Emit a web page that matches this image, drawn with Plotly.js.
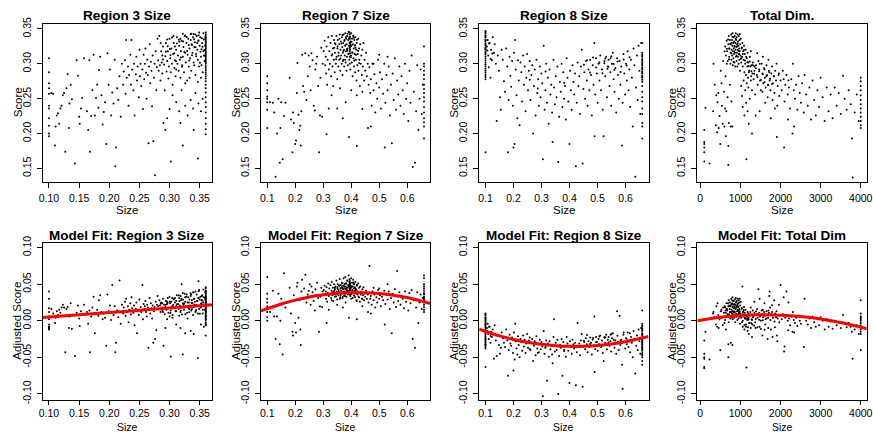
<!DOCTYPE html>
<html>
<head>
<meta charset="utf-8">
<script src="https://cdn.plot.ly/plotly-3.0.1.min.js"></script>
<style>html,body{margin:0;padding:0;background:#fff;}#chart{width:873px;height:432px;}</style>
</head>
<body>
<div id="chart"></div>
<script>
// ---------- Region 3 ----------
const r3Size = [
0.100,0.100,0.100,0.100,0.100,0.100,0.100,0.100,0.100,0.100,0.100,0.104,0.107,0.110,0.111,0.113,0.115,0.117,0.119,0.121,0.123,
0.125,0.127,0.129,0.131,0.133,0.134,0.136,0.138,0.143,0.146,0.148,0.150,0.151,0.153,0.155,0.158,0.163,0.165,0.167,0.168,
0.170,0.172,0.174,0.176,0.178,0.180,0.182,0.183,0.185,0.187,0.189,0.191,0.193,0.195,0.197,0.199,0.201,0.203,0.205,0.207,
0.209,0.210,0.211,0.213,0.215,0.217,0.219,
0.221,0.223,0.224,0.226,0.227,0.228,0.229,0.231,0.232,0.233,0.235,0.236,0.237,0.238,0.240,0.241,0.242,0.244,0.245,0.246,
0.247,0.249,0.250,0.251,0.252,0.253,0.255,0.256,0.257,0.258,0.259,0.260,0.261,0.262,0.263,0.264,0.265,0.266,0.267,0.268,
0.269,0.270,0.271,0.272,0.273,0.274,0.275,0.276,0.277,0.278,0.279,0.280,
0.290,0.302,0.322,0.347,0.293,0.296,0.300,0.305,0.311,0.316,0.318,0.320,0.326,0.330,0.335,0.339,0.343,0.348,0.352,0.355,0.340,
0.281,0.282,0.283,0.284,0.285,0.286,0.287,0.288,0.289,0.291,0.292,0.293,0.294,0.295,0.296,0.297,0.298,0.299,0.300,0.301,
0.302,0.303,0.304,0.305,0.306,0.307,0.308,0.309,0.310,0.311,0.312,0.313,0.314,0.315,0.316,0.317,0.318,0.319,0.320,0.321,
0.322,0.323,0.324,0.325,0.326,0.327,0.328,0.329,0.330,0.331,0.332,0.333,0.334,0.335,0.336,0.337,0.338,0.339,0.340,0.341,
0.342,0.343,0.344,0.345,0.346,0.347,0.348,0.349,0.350,0.351,0.352,0.353,0.354,0.355,0.356,0.357,0.358,0.359,
0.357,0.352,0.347,0.333,0.326,0.318,0.309,0.296,0.288,0.343,0.336,0.349,0.322,0.311,0.341,0.353,
0.36,0.36,0.36,0.36,0.36,0.36,0.36,0.36,0.36,0.36,0.36,0.36,0.36,0.36,0.36,0.36,0.36,0.36,0.36,0.36,
0.36,0.36,0.36,0.36,0.36,0.36,0.36,0.36,0.36,0.36,0.36,0.36,0.36,0.36,0.36,0.36,0.36,0.36,0.36,0.36,0.36,0.36,
0.3005,0.3042,0.3078,0.3121,0.3153,0.3187,0.3224,0.3259,0.3291,0.3318,0.3347,0.3372,0.3406,0.3431,0.3458,0.3483,0.3512,0.3537,0.3561,0.3584,
0.2937,0.2968,0.3015,0.3066,0.3109,0.3163,0.3207,0.3244,0.3283,0.3327,0.3364,0.3398,0.3441,0.3476,0.3503,0.3546,0.3578,0.3592,0.2853,0.2891
];
const r3Score = [
0.308,0.288,0.272,0.265,0.257,0.240,0.236,0.222,0.211,0.200,0.196,0.258,0.257,0.183,0.210,0.226,0.229,0.214,0.236,0.240,0.255,
0.258,0.174,0.265,0.285,0.208,0.243,0.270,0.249,0.157,0.305,0.283,0.224,0.214,0.236,0.251,0.308,0.232,0.205,0.305,0.174,
0.225,0.262,0.313,0.226,0.251,0.270,0.237,0.291,0.310,0.255,0.213,0.231,0.245,0.185,0.315,0.270,0.292,0.226,0.259,0.243,
0.306,0.153,0.180,0.265,0.248,0.282,0.224,
0.300,0.270,0.289,0.305,0.257,0.334,0.280,0.296,0.240,0.284,0.313,0.270,0.334,0.292,0.262,0.300,0.226,0.285,0.310,0.276,
0.296,0.252,0.320,0.282,0.300,0.268,0.292,0.235,0.313,0.278,0.300,0.322,0.287,0.250,0.306,0.284,0.186,0.296,0.328,0.272,
0.303,0.290,0.239,0.312,0.189,0.280,0.300,0.140,0.318,0.262,0.295,0.336,
0.215,0.160,0.183,0.164,0.205,0.222,0.235,0.255,0.245,0.232,0.215,0.262,0.240,0.226,0.248,0.236,0.258,0.243,0.232,0.250,0.205,
0.305,0.290,0.340,0.298,0.276,0.318,0.302,0.286,0.325,0.299,0.262,0.311,0.330,0.289,0.304,0.318,0.279,0.296,0.336,0.308,
0.288,0.322,0.300,0.270,0.314,0.330,0.294,0.305,0.282,0.320,0.338,0.300,0.312,0.290,0.326,0.306,0.280,0.318,0.333,0.298,
0.310,0.324,0.288,0.340,0.316,0.302,0.330,0.276,0.313,0.336,0.296,0.322,0.308,0.334,0.290,0.327,0.316,0.338,0.302,0.324,
0.331,0.284,0.314,0.340,0.320,0.306,0.333,0.296,0.326,0.338,0.310,0.321,0.330,0.288,0.318,0.335,0.304,0.326,
0.312,0.280,0.274,0.280,0.272,0.336,0.325,0.335,0.312,0.342,0.343,0.345,0.343,0.292,0.298,0.298,
0.345,0.342,0.340,0.338,0.336,0.334,0.332,0.330,0.328,0.326,0.324,0.322,0.320,0.318,0.316,0.314,0.312,0.310,0.308,0.306,
0.304,0.302,0.300,0.297,0.294,0.291,0.288,0.285,0.282,0.279,0.275,0.270,0.265,0.259,0.252,0.245,0.238,0.230,0.222,0.214,0.206,0.199,
0.3213,0.3377,0.3152,0.3291,0.3346,0.3089,0.3319,0.3407,0.3183,0.3268,0.3424,0.3121,0.3352,0.3236,0.3298,0.3411,0.3172,0.3367,0.3439,0.3114,
0.3174,0.3253,0.3121,0.3398,0.3037,0.3317,0.2959,0.3168,0.3386,0.3046,0.3281,0.3429,0.3109,0.3334,0.3015,0.3243,0.3197,0.3377,0.3294,0.3061
];
const r3Adj = [
0.040,0.030,0.017,0.012,0.006,-0.005,-0.009,-0.012,0.002,-0.008,-0.011,0.016,0.010,-0.003,0.004,0.013,0.008,0.015,0.011,0.018,0.022,
0.018,-0.043,0.016,0.019,-0.010,0.006,0.024,-0.011,-0.048,0.011,0.021,0.003,-0.007,0.013,0.008,0.022,0.012,-0.004,0.014,-0.043,
0.006,0.018,0.033,-0.017,0.009,0.015,0.007,0.028,0.035,0.012,0.002,0.010,0.004,-0.034,0.036,0.013,0.021,0.001,0.049,0.008,
0.020,-0.043,-0.030,0.014,0.005,0.055,-0.004,
0.022,0.010,0.018,0.026,0.007,0.030,0.012,0.020,-0.002,0.015,0.024,0.009,0.032,0.017,0.011,0.021,-0.006,0.016,0.025,-0.017,
0.013,0.008,0.029,0.014,0.019,0.012,0.049,0.002,0.023,0.016,0.020,0.027,0.012,0.006,0.022,0.018,-0.037,0.015,0.031,0.010,
0.024,0.017,0.003,0.021,-0.030,0.013,0.019,-0.025,0.026,-0.013,0.022,0.034,
-0.034,-0.049,-0.046,-0.051,-0.010,0.002,0.006,0.004,-0.005,0.007,-0.010,0.050,-0.017,0.003,-0.014,0.008,0.012,0.054,-0.005,0.010,-0.018,
0.020,0.016,0.028,0.021,0.012,0.025,0.018,0.014,0.030,0.022,0.009,0.019,0.027,0.015,0.023,0.031,0.011,0.017,0.033,0.024,
0.014,0.026,0.020,0.008,0.022,0.029,0.018,0.025,0.013,0.027,0.035,0.019,0.023,0.016,0.031,0.021,0.012,0.028,0.030,0.018,
0.024,0.022,0.015,0.037,0.026,0.020,0.033,0.011,0.025,0.032,0.017,0.029,0.021,0.034,0.014,0.028,0.024,0.039,0.019,0.030,
0.026,0.013,0.022,0.036,0.027,0.020,0.031,0.016,0.029,0.033,0.023,0.028,0.035,0.015,0.025,0.032,0.021,0.030,
-0.008,0.018,0.010,0.016,0.009,0.034,0.031,0.026,0.024,0.040,0.036,0.042,0.038,0.020,0.022,0.024,
0.046,0.041,0.038,0.044,0.035,0.040,0.032,0.037,0.030,0.033,0.028,0.025,0.031,0.027,0.022,0.029,0.024,0.020,0.026,0.018,
0.023,0.016,0.021,0.014,0.019,0.012,0.017,0.010,0.013,0.008,0.006,0.011,0.004,0.002,0.007,-0.003,0.001,-0.006,-0.020,0.003,-0.002,-0.005,
0.0262,0.0311,0.0173,0.0226,0.0348,0.0139,0.0287,0.0321,0.0184,0.0251,0.0377,0.0162,0.0297,0.0214,0.0271,0.0403,0.0193,0.0336,0.0428,0.0152,
0.0218,0.0247,0.0106,0.0302,0.0129,0.0268,0.0087,0.0235,0.0359,0.0118,0.0244,0.0386,0.0147,0.0312,0.0095,0.0276,0.0209,0.0391,0.0233,0.0121
];
const r3BestX = [0.36], r3BestY = [0.35];
const r3FitX = [0.0896,0.15,0.20,0.25,0.30,0.3704];
const r3FitY = [0.0045,0.0082,0.0113,0.0144,0.0175,0.0218];

// ---------- Region 7 ----------
const r7Size = [
0.1,0.1,0.1,0.1,0.1,0.1,0.1,0.1,
0.110,0.120,0.125,0.130,0.135,0.140,0.145,0.147,0.150,0.155,0.160,0.165,0.180,0.185,0.190,0.192,0.195,0.200,0.203,0.206,
0.208,0.212,0.215,0.218,0.220,0.222,0.225,0.228,0.232,0.236,0.240,0.245,0.248,0.252,0.255,0.258,0.262,0.266,0.270,0.272,
0.275,0.278,0.282,0.285,0.288,0.290,0.293,0.296,0.298,
0.302,0.305,0.307,0.309,0.310,0.312,0.314,0.316,0.318,0.320,0.322,0.324,0.326,0.328,0.330,0.331,0.333,0.335,0.336,0.338,
0.339,0.341,0.342,0.344,0.345,0.347,0.348,0.350,0.351,0.352,0.354,0.355,0.357,0.358,0.359,0.361,0.362,0.363,0.364,0.366,
0.367,0.368,0.369,0.370,0.371,0.372,0.373,0.374,0.375,0.376,0.377,0.378,0.379,0.380,0.381,0.382,0.383,0.384,0.385,0.386,
0.387,0.388,0.389,0.390,0.391,0.392,0.393,0.394,0.395,0.395,0.395,0.395,0.395,0.395,0.395,0.396,0.397,0.398,0.399,0.400,
0.401,0.402,0.403,0.404,0.405,0.406,0.407,0.408,0.409,0.410,0.411,0.412,0.413,0.414,0.415,0.417,0.418,0.419,0.420,0.422,
0.423,0.425,0.426,0.428,0.429,0.431,0.432,0.434,0.436,0.438,0.440,0.442,0.444,0.446,0.448,0.450,0.453,0.456,0.459,0.462,
0.465,0.468,0.470,0.473,0.476,0.480,0.483,0.486,0.490,0.493,0.496,0.500,0.503,0.506,0.510,0.514,0.518,0.520,0.522,0.526,
0.530,0.534,0.538,0.542,0.545,0.548,0.552,0.556,0.560,0.564,0.568,0.572,0.576,0.580,0.584,0.588,0.592,0.596,0.600,0.604,
0.608,0.612,0.616,0.620,0.624,0.628,0.632,0.636,0.640,0.644,0.648,0.652,0.656,
0.312,0.392,0.420,0.350,0.370,0.440,0.460,0.420,0.380,0.330,0.320,0.470,0.400,0.360,0.440,0.480,0.500,0.530,
0.66,0.66,0.66,0.66,0.66,0.66,0.66,0.66,0.66,0.66,0.66,0.66,0.66,0.66,0.66,0.66,0.66,
0.3512,0.3547,0.3583,0.3617,0.3649,0.3688,0.3721,0.3756,0.3784,0.3812,0.3843,0.3871,0.3904,0.3927,0.3952,0.3968,0.3986,0.4013,0.4041,0.4077,
0.4109,0.4142,0.4171,0.4208,0.4243,0.4281,0.3327,0.3418,0.3459,0.3394,0.3941,0.3957,0.3963,0.3975,0.3938,0.4092,0.4157,0.3701,0.3807,0.3869
];
const r7Score = [
0.282,0.272,0.262,0.253,0.250,0.234,0.208,0.245,
0.245,0.244,0.230,0.138,0.200,0.250,0.158,0.208,0.245,0.163,0.225,0.244,0.280,0.220,0.173,0.230,0.215,0.185,0.190,0.258,
0.301,0.227,0.205,0.211,0.183,0.232,0.313,0.268,0.260,0.315,0.248,0.282,0.312,0.296,0.262,0.315,0.305,0.240,0.233,0.292,
0.300,0.310,0.268,0.173,0.226,0.280,0.323,0.224,0.300,
0.318,0.333,0.298,0.310,0.286,0.325,0.270,0.306,0.338,0.292,0.318,0.300,0.330,0.282,0.312,0.340,0.296,0.322,0.268,0.306,
0.334,0.288,0.316,0.328,0.300,0.340,0.310,0.278,0.322,0.334,0.296,0.316,0.328,0.306,0.342,0.290,0.320,0.332,0.312,0.300,
0.338,0.324,0.284,0.316,0.330,0.306,0.342,0.320,0.296,0.334,0.312,0.326,0.344,0.302,0.318,0.336,0.290,0.328,0.310,0.340,
0.322,0.298,0.334,0.314,0.346,0.326,0.306,0.338,0.300,0.310,0.318,0.324,0.330,0.336,0.342,0.320,0.292,0.332,0.312,0.344,
0.326,0.302,0.336,0.316,0.282,0.328,0.340,0.308,0.322,0.296,0.334,0.314,0.326,0.288,0.338,0.306,0.320,0.276,0.330,0.298,
0.314,0.336,0.290,0.322,0.306,0.268,0.328,0.300,0.312,0.284,0.320,0.296,0.330,0.276,0.306,0.290,0.316,0.282,0.300,0.270,
0.295,0.258,0.278,0.240,0.300,0.262,0.285,0.230,0.272,0.250,0.306,0.266,0.288,0.236,0.278,0.257,0.300,0.180,0.244,0.284,
0.262,0.296,0.226,0.270,0.186,0.286,0.248,0.308,0.234,0.276,0.256,0.296,0.240,0.282,0.262,0.228,0.300,0.250,0.272,0.218,
0.290,0.244,0.312,0.152,0.260,0.158,0.232,0.298,0.205,0.250,0.292,0.228,0.270,
0.199,0.195,0.182,0.236,0.222,0.235,0.208,0.255,0.245,0.255,0.236,0.210,0.262,0.265,0.260,0.300,0.313,0.310,
0.325,0.300,0.296,0.290,0.284,0.278,0.270,0.264,0.258,0.252,0.246,0.238,0.230,0.222,0.216,0.210,0.193,
0.3248,0.3117,0.3359,0.3076,0.3293,0.3412,0.3184,0.3327,0.3059,0.3381,0.3208,0.3431,0.3142,0.3367,0.3226,0.3283,0.3094,0.3318,0.3163,0.3402,
0.3047,0.3271,0.3129,0.3344,0.3186,0.3013,0.3138,0.3294,0.3067,0.3229,0.3307,0.3153,0.3389,0.3262,0.3448,0.3372,0.3231,0.3039,0.3273,0.3186
];
const r7Adj = [
0.060,0.037,0.030,0.025,0.020,0.012,0.005,0.000,
0.012,0.041,0.006,-0.025,0.006,0.037,-0.032,0.000,0.030,-0.046,0.065,0.018,0.045,0.010,-0.015,-0.020,0.035,-0.003,-0.016,0.047,
0.052,0.004,0.028,-0.012,-0.033,0.040,0.056,0.030,0.044,0.063,0.025,0.036,0.041,0.050,0.022,0.047,0.039,0.027,0.014,0.043,
0.035,0.052,0.031,-0.015,0.020,0.033,0.045,0.019,0.040,
0.042,0.048,0.036,0.040,0.030,0.046,0.026,0.038,0.051,0.034,0.044,0.037,0.049,0.031,0.041,0.053,0.035,0.045,0.027,0.039,
0.050,0.033,0.043,0.047,0.036,0.055,0.040,0.029,0.046,0.050,0.035,0.042,0.048,0.039,0.057,0.032,0.044,0.049,0.041,0.037,
0.052,0.045,0.031,0.043,0.048,0.038,0.058,0.044,0.035,0.050,0.040,0.047,0.060,0.037,0.043,0.051,0.033,0.046,0.039,0.055,
0.045,0.036,0.049,0.041,0.062,0.047,0.038,0.053,0.036,0.039,0.042,0.044,0.047,0.050,0.054,0.043,0.034,0.048,0.040,0.058,
0.046,0.037,0.052,0.042,0.031,0.047,0.056,0.039,0.044,0.035,0.050,0.041,0.046,0.032,0.053,0.038,0.043,0.028,0.048,0.036,
0.040,0.051,0.033,0.045,0.038,0.026,0.047,0.036,0.040,0.030,0.043,0.035,0.046,0.028,0.037,0.033,0.041,0.030,0.036,0.025,
0.075,0.030,0.034,0.022,0.040,0.028,0.036,0.018,0.032,0.025,0.042,0.030,0.035,0.020,0.033,0.028,0.041,-0.005,0.023,0.036,
0.029,0.040,0.016,0.031,-0.017,0.037,0.025,0.043,0.019,0.068,0.027,0.039,0.022,0.034,0.030,0.017,0.040,0.026,0.032,0.014,
0.038,0.024,0.042,-0.025,0.028,-0.037,0.018,0.039,-0.003,0.025,0.036,0.016,0.031,
-0.003,0.004,0.002,0.022,0.018,0.020,0.012,0.027,0.025,0.028,0.015,0.010,0.030,0.030,0.030,0.045,0.044,0.050,
0.062,0.058,0.050,0.047,0.044,0.041,0.038,0.036,0.033,0.031,0.029,0.027,0.025,0.022,0.019,0.015,0.012,
0.0437,0.0394,0.0482,0.0352,0.0459,0.0518,0.0401,0.0467,0.0336,0.0509,0.0421,0.0547,0.0378,0.0493,0.0416,0.0449,0.0362,0.0471,0.0389,0.0524,
0.0341,0.0446,0.0373,0.0488,0.0398,0.0318,0.0385,0.0453,0.0331,0.0409,0.0462,0.0392,0.0513,0.0438,0.0566,0.0502,0.0414,0.0327,0.0441,0.0403
];
const r7BestX = [0.395], r7BestY = [0.35];
const r7FitX = [0.0776,0.15,0.20,0.25,0.30,0.35,0.40,0.45,0.50,0.55,0.60,0.6824];
const r7FitY = [0.0136,0.0230,0.0282,0.0324,0.0355,0.0376,0.0385,0.0384,0.0372,0.0350,0.0317,0.0236];

// ---------- Region 8 ----------
const r8Size = [
0.1,0.1,0.1,0.1,0.1,0.1,0.1,0.1,0.1,0.1,0.1,0.1,0.1,0.1,0.1,0.1,0.1,0.1,0.1,0.1,0.1,0.1,0.1,0.1,0.1,
0.105,0.108,0.110,0.112,0.115,0.118,0.120,0.123,0.126,0.130,0.133,0.137,0.140,0.144,0.148,0.152,0.155,0.158,
0.162,0.166,0.170,0.174,0.178,0.180,0.183,0.186,0.189,0.192,0.195,0.198,0.200,0.202,0.204,0.206,0.208,0.211,0.214,0.216,
0.219,0.222,0.225,0.228,0.231,0.234,0.237,0.240,0.243,0.246,0.249,0.252,0.255,0.258,0.261,0.264,0.267,0.270,0.273,0.276,
0.279,0.282,0.285,0.288,0.291,0.294,0.297,0.300,0.303,0.305,0.308,0.311,0.314,0.317,0.320,0.323,0.326,0.329,0.332,0.335,
0.338,0.340,0.343,0.345,0.348,0.351,0.354,0.357,0.360,0.363,0.366,0.369,0.372,0.375,0.378,0.381,0.384,0.387,0.390,0.393,
0.396,0.400,0.402,0.405,0.408,0.411,0.414,0.417,0.420,0.423,0.426,0.429,0.432,0.435,0.438,0.441,0.444,0.447,0.450,0.453,
0.456,0.459,0.462,0.465,0.468,0.471,0.474,0.477,0.480,0.483,0.486,0.489,0.490,0.492,0.495,0.498,0.501,0.504,0.507,0.510,
0.513,0.516,0.519,0.522,0.525,0.528,0.531,0.534,0.537,0.540,0.543,0.546,0.549,0.552,0.555,0.558,0.561,0.564,0.567,0.570,
0.573,0.576,0.579,0.582,0.585,0.588,0.590,0.593,0.596,0.599,0.602,0.605,0.608,0.611,0.614,0.617,0.620,0.623,0.626,0.629,
0.632,0.635,0.638,0.641,0.644,0.647,0.650,0.653,0.656,
0.66,0.66,0.66,0.66,0.66,0.66,0.66,0.66,0.66,0.66,0.66,0.66,0.66,0.66,0.66,0.66,0.66,0.66,0.66,0.66,0.66,0.66,0.66,0.66,0.66,
0.4517,0.4628,0.4733,0.4842,0.4951,0.5068,0.5176,0.5283,0.5391,0.5498,0.5607,0.5714,0.5826,0.5937,0.6043,0.6152,0.5246,0.5358,0.5469,0.5581,
0.1,0.1,0.1,0.1,0.1,0.1,0.66,0.66,0.66,0.66,0.66,0.66,0.1063,0.1128,0.1187,0.1241,0.2583,0.2867,0.3146,0.3812
];
const r8Score = [
0.347,0.344,0.341,0.338,0.335,0.332,0.329,0.326,0.323,0.320,0.317,0.314,0.311,0.308,0.305,0.302,0.299,0.296,0.293,0.290,0.287,0.284,0.281,0.278,0.173,
0.325,0.334,0.312,0.295,0.330,0.280,0.320,0.305,0.338,0.316,0.328,0.300,0.218,0.312,0.290,0.252,0.234,0.320,
0.306,0.275,0.260,0.322,0.296,0.173,0.248,0.310,0.283,0.267,0.304,0.240,0.180,0.316,0.185,0.334,0.292,0.255,0.222,0.305,
0.276,0.212,0.302,0.288,0.246,0.312,0.270,0.296,0.232,0.280,0.314,0.262,0.290,0.304,0.248,0.284,0.298,0.200,0.268,0.292,
0.226,0.306,0.258,0.278,0.240,0.296,0.252,0.286,0.272,0.163,0.326,0.234,0.262,0.300,0.244,0.280,0.214,0.292,0.256,0.270,
0.230,0.188,0.306,0.266,0.242,0.282,0.252,0.296,0.159,0.224,0.274,0.260,0.300,0.238,0.288,0.250,0.268,0.220,0.308,0.280,
0.246,0.185,0.290,0.262,0.234,0.298,0.274,0.256,0.286,0.153,0.244,0.302,0.268,0.282,0.228,0.296,0.320,0.157,0.264,0.288,
0.250,0.304,0.276,0.240,0.292,0.262,0.306,0.284,0.226,0.298,0.270,0.330,0.196,0.256,0.308,0.286,0.244,0.300,0.276,0.312,
0.262,0.292,0.234,0.196,0.304,0.282,0.310,0.252,0.296,0.306,0.268,0.288,0.240,0.300,0.316,0.278,0.260,0.294,0.230,0.308,
0.284,0.250,0.304,0.270,0.296,0.183,0.244,0.314,0.286,0.256,0.300,0.276,0.318,0.262,0.292,0.238,0.306,0.280,0.210,0.322,
0.298,0.138,0.266,0.312,0.248,0.326,0.290,0.228,0.330,
0.330,0.316,0.313,0.310,0.307,0.304,0.301,0.298,0.295,0.292,0.289,0.286,0.283,0.280,0.277,0.274,0.268,0.260,0.252,0.246,0.236,0.228,0.215,0.210,0.193,
0.2987,0.3052,0.2874,0.3091,0.2946,0.3018,0.2863,0.3076,0.2958,0.3107,0.2914,0.3034,0.2881,0.3062,0.2977,0.3093,0.3007,0.2929,0.3081,0.2996,
0.3455,0.3395,0.3335,0.3275,0.3215,0.3155,0.3115,0.3055,0.2995,0.2935,0.2875,0.2815,0.3192,0.3293,0.3068,0.3147,0.2773,0.2647,0.2889,0.2724
];
const r8Adj = [
0.010,0.007,0.004,0.002,0.000,-0.002,-0.004,-0.006,-0.008,-0.010,-0.012,-0.014,-0.016,-0.018,-0.020,-0.022,-0.024,-0.026,-0.028,-0.030,-0.032,-0.034,-0.036,-0.038,-0.063,
-0.010,-0.004,-0.018,-0.025,-0.008,-0.030,-0.015,-0.022,-0.012,-0.052,-0.006,-0.027,-0.048,-0.020,-0.033,-0.045,-0.037,-0.016,
-0.024,-0.030,-0.036,-0.012,-0.027,-0.075,-0.040,-0.019,-0.031,-0.034,-0.023,-0.044,-0.068,-0.016,-0.053,-0.004,-0.028,-0.038,-0.046,-0.021,
-0.033,-0.050,-0.025,-0.029,-0.041,-0.020,-0.035,-0.026,-0.044,-0.031,-0.018,-0.037,-0.027,-0.023,-0.040,-0.030,-0.025,-0.055,-0.034,-0.028,
-0.047,-0.021,-0.038,-0.032,-0.043,-0.026,-0.039,-0.029,-0.035,-0.103,-0.014,-0.045,-0.037,-0.027,-0.082,-0.031,-0.049,-0.028,-0.039,-0.034,
-0.046,-0.058,-0.022,0.002,-0.042,-0.030,-0.040,-0.026,-0.100,-0.048,-0.033,-0.037,-0.025,-0.075,-0.029,-0.040,-0.035,-0.049,-0.022,-0.031,
-0.041,-0.085,-0.028,-0.036,-0.045,-0.026,-0.032,-0.038,-0.030,-0.088,-0.043,-0.003,-0.034,-0.031,-0.047,-0.027,-0.018,-0.090,-0.036,-0.029,
-0.039,-0.024,-0.032,-0.043,-0.028,-0.036,-0.023,-0.030,-0.046,-0.026,-0.034,0.006,-0.070,-0.039,-0.022,-0.029,-0.041,-0.025,-0.032,-0.020,
-0.036,-0.027,-0.044,-0.055,-0.023,-0.030,-0.019,-0.039,-0.026,-0.022,-0.034,-0.028,-0.042,-0.024,-0.017,-0.031,-0.037,-0.027,-0.045,0.013,
-0.029,-0.040,0.007,-0.033,-0.026,-0.060,-0.093,-0.019,-0.029,-0.038,-0.024,-0.032,-0.016,-0.036,-0.027,-0.043,-0.022,-0.030,-0.050,-0.014,
-0.025,-0.072,-0.034,-0.020,-0.040,-0.012,-0.028,-0.045,-0.010,
0.014,-0.004,-0.008,-0.011,-0.014,-0.017,-0.020,-0.023,-0.026,-0.029,-0.032,-0.035,-0.038,-0.041,-0.044,-0.047,-0.018,-0.027,-0.033,-0.039,-0.046,-0.050,-0.055,-0.060,-0.030,
-0.0273,-0.0196,-0.0318,-0.0237,-0.0289,-0.0214,-0.0341,-0.0225,-0.0298,-0.0181,-0.0312,-0.0204,-0.0267,-0.0159,-0.0246,-0.0172,-0.0229,-0.0336,-0.0192,-0.0258,
0.0085,0.0035,-0.0055,-0.0155,-0.0255,-0.0325,-0.0065,-0.0125,-0.0185,-0.0245,-0.0305,-0.0365,-0.0142,-0.0083,-0.0207,-0.0171,-0.0386,-0.0442,-0.0357,-0.0413
];
const r8BestX = [0.1], r8BestY = [0.35];
const r8FitX = [0.0776,0.15,0.20,0.25,0.30,0.35,0.40,0.45,0.50,0.55,0.60,0.6824];
const r8FitY = [-0.0114,-0.0207,-0.0255,-0.0293,-0.0322,-0.0340,-0.0349,-0.0348,-0.0337,-0.0317,-0.0286,-0.0215];

// ---------- Total Dim ----------
const dimSize = [
100,100,100,100,100,100,130,230,
320,330,360,390,400,420,430,450,460,480,500,510,530,540,560,570,590,600,610,620,630,640,650,660,680,700,700,710,720,740,760,780,800,
620,640,655,670,685,700,710,720,730,740,750,755,760,770,775,780,790,795,800,805,810,815,820,825,830,835,840,845,850,855,
860,865,870,875,880,885,890,895,900,905,910,915,920,925,930,935,940,945,950,955,960,965,970,975,980,985,990,995,1000,1010,
1020,1030,1040,1050,1060,1070,1080,1090,1100,1110,1120,1130,1140,1150,1160,1170,1180,1190,1200,1220,1240,1260,1280,1300,
1020,1040,1060,1080,1100,1120,1140,1160,1180,1200,1210,1230,1250,1270,1290,1310,1330,1350,1370,1390,
1410,1430,1450,1470,1490,1510,1530,1550,1570,1590,1610,1630,1650,1670,1690,1710,1730,1750,1770,1790,
1810,1830,1850,1870,1890,1910,1930,1950,1970,2000,2030,2060,2090,2100,2120,2150,2180,2210,2240,2270,
2300,2330,2360,2390,2420,2450,2480,2510,1210,1290,1380,1480,1620,1760,1860,2190,2340,1260,1420,1560,1700,1900,2310,
2540,2580,2600,2640,2680,2720,2760,2800,2840,2880,2920,2960,3000,3050,3100,3150,3200,3250,3300,3350,
3400,3450,3500,3560,3600,3650,3700,3750,3780,3800,3850,3900,3950,
4000,4000,4000,4000,4000,4000,4000,4000,4000,4000,4000,4000,4000,
1350,1480,1600,1720,1840,1960,2080,2200,1550,1680,1800,1920,
663,691,718,746,773,802,827,853,881,906,932,957,984,1012,1037,1063,1088,1117,1143,1172,
1206,1238,1274,1311,1346,1383,1424,1467,1512,1558,1603,1648,1694,1741,1788,782,843,917,968,1027
];
const dimScore = [
0.205,0.188,0.185,0.180,0.173,0.160,0.237,0.157,
0.232,0.300,0.270,0.212,0.255,0.202,0.245,0.258,0.208,0.225,0.185,0.290,0.272,0.240,0.214,0.304,0.260,0.210,0.318,0.236,
0.282,0.196,0.232,0.300,0.252,0.155,0.182,0.215,0.322,0.270,0.210,0.246,0.210,
0.325,0.312,0.333,0.318,0.304,0.328,0.340,0.310,0.322,0.334,0.300,0.316,0.328,0.342,0.306,0.320,0.334,0.312,0.326,0.344,
0.298,0.318,0.330,0.308,0.338,0.322,0.314,0.332,0.302,0.326,0.340,0.316,0.296,0.330,0.320,0.344,0.310,0.334,0.324,0.304,
0.338,0.316,0.328,0.296,0.342,0.320,0.310,0.332,0.326,0.300,0.340,0.314,0.322,0.306,0.334,0.318,0.290,0.328,0.312,0.336,
0.302,0.322,0.310,0.330,0.296,0.318,0.306,0.326,0.288,0.314,0.300,0.320,0.284,0.163,0.308,0.296,0.316,0.280,0.302,0.290,
0.310,0.276,0.298,0.286,
0.268,0.254,0.238,0.276,0.226,0.262,0.244,0.272,0.232,0.266,0.288,0.250,0.296,0.282,0.262,0.302,0.278,0.290,0.256,0.298,
0.284,0.270,0.304,0.292,0.276,0.262,0.300,0.286,0.272,0.294,0.280,0.266,0.298,0.284,0.270,0.290,0.276,0.262,0.286,0.296,
0.272,0.282,0.258,0.290,0.276,0.195,0.268,0.284,0.254,0.276,0.262,0.290,0.180,0.246,0.270,0.284,0.256,0.266,0.236,0.278,
0.200,0.262,0.250,0.270,0.234,0.282,0.258,0.244,0.214,0.200,0.226,0.232,0.244,0.222,0.236,0.220,0.210,0.318,0.315,0.310,0.306,0.300,0.300,
0.272,0.230,0.284,0.256,0.240,0.266,0.220,0.276,0.248,0.226,0.262,0.238,0.280,0.252,0.218,0.266,0.232,0.256,0.222,0.266,
0.240,0.258,0.228,0.283,0.250,0.234,0.262,0.242,0.193,0.137,0.230,0.256,0.218,
0.280,0.275,0.268,0.262,0.255,0.248,0.242,0.236,0.230,0.224,0.218,0.212,0.208,
0.296,0.300,0.292,0.288,0.282,0.286,0.278,0.276,0.260,0.252,0.248,0.240,
0.3216,0.3347,0.3064,0.3289,0.3153,0.3388,0.3027,0.3246,0.3361,0.3118,0.3294,0.3182,0.3426,0.3071,0.3233,0.3139,0.3198,0.3046,0.3097,0.3022,
0.2967,0.3034,0.2894,0.2981,0.2856,0.2937,0.2812,0.2893,0.2768,0.2849,0.2737,0.2821,0.2694,0.2786,0.2712,0.3302,0.3177,0.3251,0.3139,0.3082
];
const dimAdj = [
-0.027,-0.050,-0.052,-0.063,-0.065,-0.045,-0.015,-0.053,
0.010,0.012,0.005,-0.005,0.020,-0.008,0.024,0.008,-0.010,0.002,-0.040,0.013,0.015,0.004,-0.006,0.018,0.011,-0.003,0.020,0.001,
0.014,-0.012,0.006,0.016,0.009,-0.050,-0.032,-0.002,0.021,0.012,-0.030,0.005,-0.033,
0.018,0.011,0.024,0.014,0.006,0.020,0.028,0.009,0.016,0.025,0.003,0.012,0.021,0.030,0.007,0.015,0.024,0.010,0.019,0.032,
0.002,0.013,0.022,0.008,0.027,0.017,0.011,0.023,0.004,0.020,0.029,0.012,-0.002,0.022,0.016,0.031,0.009,0.025,0.018,0.006,
0.027,0.013,0.021,0.001,0.030,0.015,0.008,0.024,0.019,0.003,0.028,0.011,0.016,0.006,0.025,0.013,-0.004,0.021,0.010,0.026,
0.004,0.016,0.008,0.047,0.000,0.013,0.006,0.019,-0.006,0.011,0.003,0.015,-0.008,-0.064,0.007,0.001,0.012,-0.009,0.004,-0.003,
0.008,-0.010,0.002,-0.005,
0.005,-0.002,-0.008,0.008,-0.012,0.003,-0.005,0.006,-0.014,0.004,0.010,-0.003,0.012,0.008,0.001,0.014,0.007,0.011,-0.002,0.013,
0.009,0.004,0.043,0.011,0.006,0.000,0.014,0.009,0.005,0.012,0.007,0.002,0.013,0.008,0.004,0.011,0.040,0.001,0.009,0.012,
0.004,0.008,-0.001,0.010,0.005,-0.020,0.003,0.008,-0.002,0.049,0.002,0.009,-0.042,-0.035,0.004,0.040,0.000,0.003,-0.006,0.006,
-0.015,0.001,-0.003,0.004,-0.007,0.007,0.000,-0.004,-0.018,-0.022,-0.010,-0.008,-0.005,-0.012,-0.009,-0.013,-0.016,0.018,0.016,0.015,0.014,0.013,0.012,
0.005,-0.036,0.030,0.000,-0.005,0.003,-0.010,0.006,-0.002,-0.008,0.002,-0.006,0.005,0.000,-0.012,0.002,-0.008,-0.001,-0.011,0.000,
-0.006,-0.002,-0.010,0.008,-0.004,-0.009,-0.003,-0.008,-0.015,-0.052,-0.012,-0.006,-0.018,
0.028,0.010,0.006,0.004,0.002,0.000,-0.003,-0.006,-0.009,-0.012,-0.015,-0.018,-0.040,
0.026,0.030,0.024,0.034,0.028,0.022,0.032,0.025,-0.020,-0.025,-0.022,-0.028,
0.0163,0.0241,0.0074,0.0198,0.0117,0.0276,0.0052,0.0184,0.0253,0.0096,0.0221,0.0138,0.0302,0.0061,0.0176,0.0109,0.0147,0.0038,0.0083,0.0029,
0.0016,0.0071,-0.0035,0.0048,-0.0068,0.0023,-0.0089,0.0014,-0.0112,0.0006,-0.0124,0.0031,-0.0097,0.0182,0.0214,0.0229,0.0132,0.0194,0.0101,0.0057
];
const dimBestX = [880], dimBestY = [0.35];
const dimFitX = [-70,500,1000,1500,2000,2500,3000,3500,4150];
const dimFitY = [0.0000,0.0047,0.0071,0.0082,0.0077,0.0058,0.0025,-0.0023,-0.0108];

// ---------- Titles and ticks ----------
const topTitles = ['Region 3 Size','Region 7 Size','Region 8 Size','Total Dim.'];
const bottomTitles = ['Model Fit: Region 3 Size','Model Fit: Region 7 Size','Model Fit: Region 8 Size','Model Fit: Total Dim'];
const xLabel = 'Size', yTopLabel = 'Score', yBottomLabel = 'Adjusted Score';
const r3XTicks = [0.10,0.15,0.20,0.25,0.30,0.35], r3XText = ['0.10','0.15','0.20','0.25','0.30','0.35'];
const rXTicks = [0.1,0.2,0.3,0.4,0.5,0.6], rXText = ['0.1','0.2','0.3','0.4','0.5','0.6'];
const dimXTicks = [0,1000,2000,3000,4000], dimXText = ['0','1000','2000','3000','4000'];
const scoreTicks = [0.15,0.20,0.25,0.30,0.35], scoreText = ['0.15','0.20','0.25','0.30','0.35'];
const adjTicks = [-0.10,-0.05,0,0.05,0.10], adjText = ['-0.10','-0.05','0.00','0.05','0.10'];

// ---------- Build ----------
const FONT = 'Liberation Sans, Arial, Helvetica, sans-serif';
const W = 873, H = 432;
const boxL = 42.7, boxR = 212, step = 218.25;
const rowTop = [24, 181.7], rowBot = [242.5, 399.8];

const panels = [
  {x:r3Size, s:r3Score, a:r3Adj, bx:r3BestX, by:r3BestY, fx:r3FitX, fy:r3FitY, xr:[0.0896,0.3704], tv:r3XTicks, tt:r3XText},
  {x:r7Size, s:r7Score, a:r7Adj, bx:r7BestX, by:r7BestY, fx:r7FitX, fy:r7FitY, xr:[0.0776,0.6824], tv:rXTicks, tt:rXText},
  {x:r8Size, s:r8Score, a:r8Adj, bx:r8BestX, by:r8BestY, fx:r8FitX, fy:r8FitY, xr:[0.0776,0.6824], tv:rXTicks, tt:rXText},
  {x:dimSize, s:dimScore, a:dimAdj, bx:dimBestX, by:dimBestY, fx:dimFitX, fy:dimFitY, xr:[-70,4150], tv:dimXTicks, tt:dimXText}
];

const traces = [];
const layout = {
  width: W, height: H, margin: {l:0, r:0, t:0, b:0},
  paper_bgcolor: '#fff', plot_bgcolor: '#fff', showlegend: false,
  font: {family: FONT, color: '#000', size: 10},
  annotations: []
};

function axisBase(domain, range, tv, tt, anchor, isY, standoff, tlen) {
  return {
    domain: domain, range: range, autorange: false, anchor: anchor,
    tickmode: 'array', tickvals: tv, ticktext: tt,
    ticks: 'outside', ticklen: tlen, tickwidth: 1, tickcolor: '#000',
    showline: true, mirror: true, linecolor: '#000', linewidth: 1,
    showgrid: false, zeroline: false, fixedrange: true,
    tickfont: {family: FONT, size: 10.5, color: '#000'},
    tickangle: isY ? -90 : 0, ticklabelstandoff: standoff
  };
}
function ann(text, xpx, ypx, size, bold, angle) {
  return {text: bold ? '<b>' + text + '</b>' : text, xref: 'paper', yref: 'paper',
    x: xpx / W, y: 1 - ypx / H, xanchor: 'center', yanchor: 'middle', showarrow: false,
    textangle: angle || 0, font: {family: FONT, size: size, color: '#000'}};
}

panels.forEach((p, i) => {
  const xd = [(boxL + step * i) / W, (boxR + step * i) / W];
  const cx = (boxL + boxR) / 2 + step * i;
  const tIdx = i + 1, bIdx = i + 5;
  const tx = 'x' + (tIdx === 1 ? '' : tIdx), ty = 'y' + (tIdx === 1 ? '' : tIdx);
  const bxn = 'x' + bIdx, byn = 'y' + bIdx;

  layout['xaxis' + (tIdx === 1 ? '' : tIdx)] = axisBase(xd, p.xr, p.tv, p.tt, ty, false, 2, 5);
  layout['yaxis' + (tIdx === 1 ? '' : tIdx)] = axisBase([1 - rowTop[1] / H, 1 - rowTop[0] / H], [0.1309, 0.3571], scoreTicks, scoreText, tx, true, 2, 5);
  layout['xaxis' + bIdx] = axisBase(xd, p.xr, p.tv, p.tt, byn, false, 0, 4);
  layout['yaxis' + bIdx] = axisBase([1 - rowBot[1] / H, 1 - rowBot[0] / H], [-0.108, 0.107], adjTicks, adjText, bxn, true, 2, 5);

  traces.push({type: 'scatter', mode: 'markers', x: p.x, y: p.s, xaxis: tx, yaxis: ty,
    marker: {size: 2, color: '#000'}, hoverinfo: 'skip'});
  traces.push({type: 'scatter', mode: 'markers', x: p.bx, y: p.by, xaxis: tx, yaxis: ty,
    marker: {size: 7, color: 'rgba(0,0,0,0)', symbol: 'circle-open', line: {color: '#ff0000', width: 1.6}}, hoverinfo: 'skip'});
  traces.push({type: 'scatter', mode: 'markers', x: p.x, y: p.a, xaxis: bxn, yaxis: byn,
    marker: {size: 2, color: '#000'}, hoverinfo: 'skip'});
  traces.push({type: 'scatter', mode: 'lines', x: p.fx, y: p.fy, xaxis: bxn, yaxis: byn,
    line: {color: '#ff0000', width: 3, shape: 'spline'}, hoverinfo: 'skip'});

  layout.annotations.push(ann(topTitles[i], cx, 16, 13.5, true));
  layout.annotations.push(ann(bottomTitles[i], cx, 235.5, 13.5, true));
  layout.annotations.push(ann(xLabel, cx, 209.5, 11.5, false));
  layout.annotations.push(ann(xLabel, cx, 426.5, 10.5, false));
  layout.annotations.push(ann(yTopLabel, 17.5 + step * i, (rowTop[0] + rowTop[1]) / 2, 11.5, false, -90));
  layout.annotations.push(ann(yBottomLabel, 17.5 + step * i, (rowBot[0] + rowBot[1]) / 2, 11.5, false, -90));
});

Plotly.newPlot('chart', traces, layout, {displayModeBar: false, staticPlot: true});
</script>
</body>
</html>
